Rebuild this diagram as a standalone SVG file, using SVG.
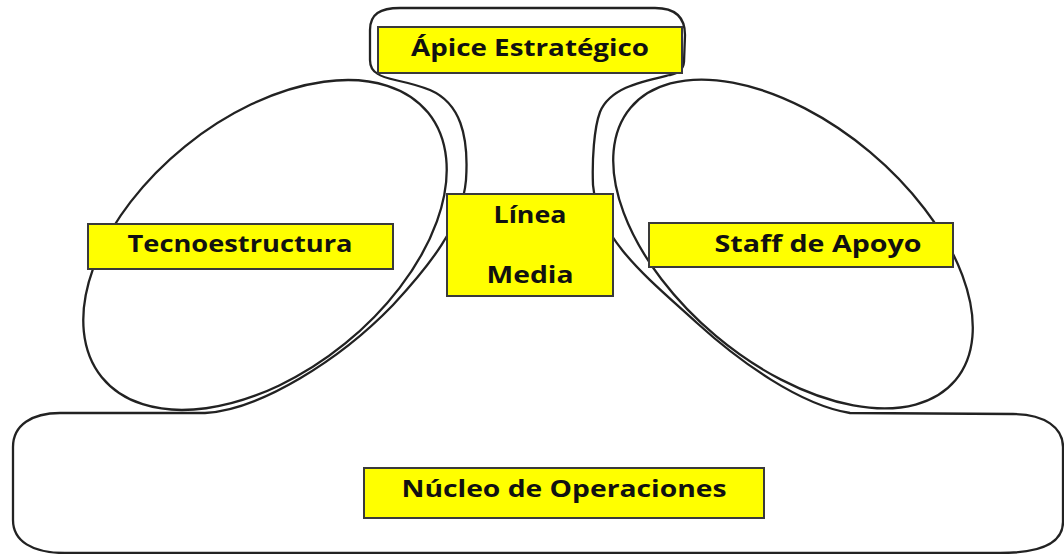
<svg xmlns="http://www.w3.org/2000/svg" width="1064" height="554" viewBox="0 0 1064 554">
<style>
.outline{fill:none;stroke:#222;stroke-width:2.3;stroke-linejoin:round}
.box{fill:#ffff00;stroke:#3a3a3a;stroke-width:2}
.lbl{font-family:"Open Sans","Liberation Sans",sans-serif;font-weight:700;font-size:23px;fill:#111;text-anchor:middle}
</style>
<rect width="1064" height="554" fill="#fff"/>
<g id="connectors">
<path class="outline" d="M 60 413 L 205 413 C 260 410 340 360 393 305 C 430 265 462 225 466 180 C 469 135 460 103 430 90 C 405 80 385 80 378 74 Q 370 70 370 60 L 370 30 C 370 14 380 8 400 8 L 655 8 C 676 8 685 18 685 35 L 684 62 Q 683 73 670 75 C 640 82 610 88 600 112 C 594 128 592 160 593 185 C 598 240 650 280 697 323 C 740 362 800 405 850 413 L 1013 414 C 1045 414 1063 428 1063 447 L 1063 522 C 1063 543 1040 553 1000 553 L 65 553 C 32 553 13 541 13 520 L 13 447 C 13 425 32 413 60 413 Z"/>
</g>
<g id="tecnoestructura-area">
<ellipse class="outline" cx="265" cy="245" rx="210" ry="127" transform="rotate(-39 265 245)"/>
</g>
<g id="staff-area">
<ellipse class="outline" cx="793" cy="244" rx="212" ry="120" transform="rotate(40 793 244)"/>
</g>
<g id="apice">
<rect class="box" x="378" y="27" width="304" height="46"/>
<text class="lbl" x="530" y="56" textLength="238" lengthAdjust="spacingAndGlyphs">Ápice Estratégico</text>
</g>
<g id="linea-media">
<rect class="box" x="447" y="194" width="166" height="102"/>
<text class="lbl" x="530" y="223" textLength="73" lengthAdjust="spacingAndGlyphs">Línea</text>
<text class="lbl" x="530" y="283" textLength="87" lengthAdjust="spacingAndGlyphs">Media</text>
</g>
<g id="tecnoestructura">
<rect class="box" x="88" y="224" width="305" height="45"/>
<text class="lbl" x="240" y="252" textLength="225" lengthAdjust="spacingAndGlyphs">Tecnoestructura</text>
</g>
<g id="staff-de-apoyo">
<rect class="box" x="649" y="223" width="304" height="44"/>
<text class="lbl" x="818" y="252" textLength="207" lengthAdjust="spacingAndGlyphs">Staff de Apoyo</text>
</g>
<g id="nucleo">
<rect class="box" x="364" y="468" width="400" height="50"/>
<text class="lbl" x="564" y="497" textLength="325" lengthAdjust="spacingAndGlyphs">Núcleo de Operaciones</text>
</g>
</svg>
